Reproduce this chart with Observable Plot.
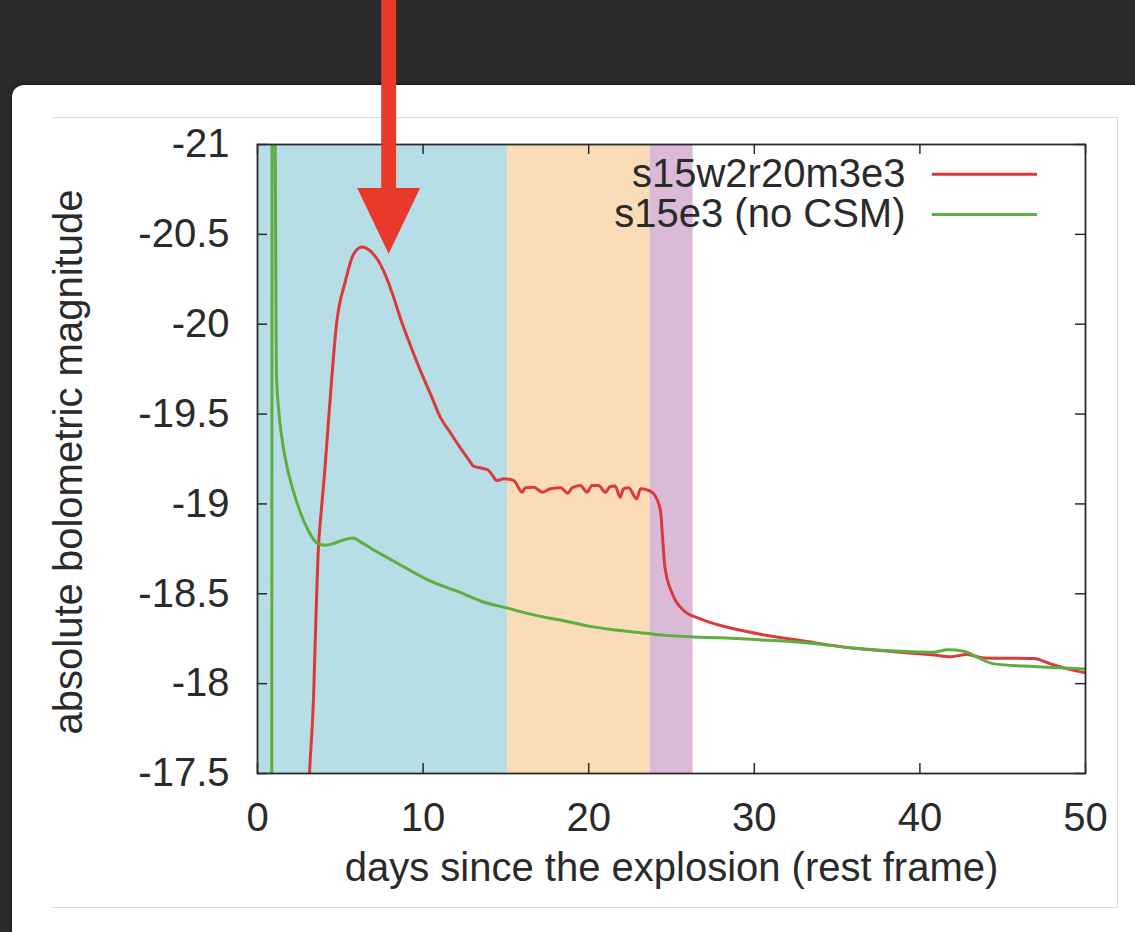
<!DOCTYPE html>
<html>
<head>
<meta charset="utf-8">
<script src="https://cdn.jsdelivr.net/npm/d3@7"></script>
<script src="https://cdn.jsdelivr.net/npm/@observablehq/plot@0.6"></script>
<style>
  html, body { margin: 0; padding: 0; background: #2b2b2b; }
  #stage { position: relative; width: 1135px; height: 932px; overflow: hidden; background: #2b2b2b; }
  #panel { position: absolute; left: 12px; top: 85px; width: 1140px; height: 870px; background: #fff; border-radius: 12px 0 0 0; box-shadow: 0 -2px 4px rgba(0,0,0,0.35); }
  #inner { position: absolute; left: 52px; top: 117px; width: 1065px; height: 789px; border-top: 1.5px solid #dcdcdc; border-right: 1.5px solid #dcdcdc; border-bottom: 1.5px solid #dcdcdc; }
  #chart { position: absolute; left: 0; top: 0; }
</style>
</head>
<body>
<div id="stage">
  <div id="panel"></div>
  <div id="inner"></div>
  <div id="chart"></div>
</div>
<script>
// Light curves: days since explosion (rest frame) vs absolute bolometric magnitude
const seriesNames = ["s15w2r20m3e3", "s15e3 (no CSM)"];

const csmDays = [3.0, 3.14, 3.38, 3.56, 3.66, 3.85, 4.05, 4.35, 4.77, 5.31, 5.8, 6.32, 7.0, 7.6, 8.15, 8.64, 9.24, 9.8,
  10.5, 11.05, 11.55, 12.26, 12.8, 13.04, 13.5, 13.9, 14.1, 14.47, 14.87, 15.48, 15.98, 16.18, 16.69, 17.19, 17.69,
  18.3, 18.74, 19.0, 19.5, 19.9, 20.2, 20.6, 21.0, 21.3, 21.6, 21.9, 22.1, 22.4, 22.9, 23.13, 23.53, 23.93, 24.34,
  24.44, 24.6, 25.05, 25.7, 26.75, 28.76, 30.78, 32.79, 35.81, 38.83, 40.84, 41.85, 42.85, 43.86, 46.88, 47.89, 48.9, 50.0];
const csmMags = [-17.2, -17.5, -17.91, -18.46, -18.72, -18.96, -19.17, -19.54, -20.0, -20.24, -20.39, -20.43, -20.39,
  -20.3, -20.17, -20.03, -19.88, -19.75, -19.6, -19.48, -19.41, -19.31, -19.24, -19.21, -19.2, -19.19, -19.17, -19.13,
  -19.14, -19.13, -19.065, -19.09, -19.093, -19.065, -19.084, -19.09, -19.06, -19.09, -19.103, -19.065, -19.103,
  -19.103, -19.065, -19.097, -19.1, -19.037, -19.084, -19.09, -19.029, -19.084, -19.078, -19.056, -18.96, -18.84,
  -18.65, -18.5, -18.41, -18.36, -18.305, -18.268, -18.24, -18.199, -18.175, -18.16, -18.15, -18.162, -18.143,
  -18.14, -18.11, -18.082, -18.06];

const bareDays = [0.86, 0.88, 1.04, 1.1, 1.14, 1.28, 1.5, 1.8, 2.17, 2.6, 3.08, 3.62, 4.1, 4.6, 5.2, 5.75, 6.2, 7.0,
  8.45, 10.45, 12.44, 13.47, 15.1, 16.8, 18.5, 20.0, 21.5, 23.5, 24.5, 26.3, 28.0, 30.0, 32.79, 35.81, 38.83, 40.84,
  41.65, 42.66, 43.46, 44.47, 46.88, 48.5, 50.0];
const bareMags = [-17.3, -21.4, -21.4, -20.4, -19.73, -19.52, -19.35, -19.2, -19.07, -18.95, -18.85, -18.78, -18.77,
  -18.78, -18.8, -18.81, -18.79, -18.745, -18.67, -18.57, -18.5, -18.46, -18.42, -18.38, -18.35, -18.32, -18.3, -18.28,
  -18.27, -18.26, -18.255, -18.245, -18.23, -18.2, -18.18, -18.175, -18.188, -18.18, -18.147, -18.11, -18.095,
  -18.088, -18.082];

// shaded phases (start/end day)
const phaseStart = [0, 15.1, 23.7];
const phaseEnd = [15.1, 23.7, 26.3];

const xTicks = [0, 10, 20, 30, 40, 50];
const yTicks = [-21, -20.5, -20, -19.5, -19, -18.5, -18, -17.5];

// colours and layout
const phaseFill = ["#b7dde6", "#fbdcb9", "#dbbad8"];
const seriesColor = ["#dc3a3a", "#5dae3e"];
const arrowColor = "#e8392b";
const ink = "#2a2a2a";
const W = 1135, H = 932;
const M = {left: 257, right: 50, top: 144, bottom: 159};
const plotW = W - M.left - M.right, plotH = H - M.top - M.bottom;
const FS = 40;

// down-pointing marker over the peak (day / magnitude units)
const arrowDay = 7.95, arrowShaftHalf = 0.45, arrowHeadHalf = 1.9;
const arrowTop = -21.85, arrowHeadBase = -20.755, arrowTip = -20.39;

// legend placement (day / magnitude units)
const legendTextDay = 39.13, legendLine = [40.75, 47.1], legendRows = [-20.835, -20.61];

const phases = phaseStart.map((s, i) => ({start: s, end: phaseEnd[i], fill: phaseFill[i]}));
const csm = csmDays.map((d, i) => ({day: d, mag: csmMags[i]}));
const bare = bareDays.map((d, i) => ({day: d, mag: bareMags[i]}));
const legend = seriesNames.map((name, i) => ({name, y: legendRows[i], color: seriesColor[i]}));
const head = [
  {x: arrowDay - arrowHeadHalf, y1: arrowHeadBase, y2: arrowHeadBase},
  {x: arrowDay, y1: arrowHeadBase, y2: arrowTip},
  {x: arrowDay + arrowHeadHalf, y1: arrowHeadBase, y2: arrowHeadBase}
];

const fmt = d => String(d);

const chart = Plot.plot({
  width: W,
  height: H,
  marginLeft: M.left,
  marginRight: M.right,
  marginTop: M.top,
  marginBottom: M.bottom,
  style: {background: "transparent", fontFamily: "'Liberation Sans', Arial, Helvetica, sans-serif", fontSize: FS + "px", color: ink},
  x: {domain: [0, 50]},
  y: {domain: [-21, -17.5], reverse: true},
  color: {type: "identity"},
  marks: [
    Plot.rect(phases, {x1: "start", x2: "end", fill: "fill"}),
    Plot.line(csm, {x: "day", y: "mag", stroke: seriesColor[0], strokeWidth: 3, curve: "monotone-x", clip: true}),
    Plot.line(bare, {x: "day", y: "mag", stroke: seriesColor[1], strokeWidth: 3, curve: "monotone-x", clip: true}),
    Plot.frame({stroke: ink, strokeWidth: 1.8}),
    Plot.tickX(xTicks, {x: d => d, insetTop: plotH - 10, stroke: ink, strokeWidth: 1.5}),
    Plot.tickX(xTicks, {x: d => d, insetBottom: plotH - 10, stroke: ink, strokeWidth: 1.5}),
    Plot.tickY(yTicks, {y: d => d, insetRight: plotW - 10, stroke: ink, strokeWidth: 1.5}),
    Plot.tickY(yTicks, {y: d => d, insetLeft: plotW - 10, stroke: ink, strokeWidth: 1.5}),
    Plot.axisX(xTicks, {tickSize: 0, tickPadding: 29, tickFormat: fmt, label: null, fontSize: FS, fill: ink}),
    Plot.axisY(yTicks, {tickSize: 0, tickPadding: 28, tickFormat: fmt, label: null, fontSize: FS, fill: ink}),
    Plot.text(["days since the explosion (rest frame)"], {frameAnchor: "bottom", dy: 107, fontSize: FS, fill: ink}),
    Plot.text(["absolute bolometric magnitude"], {frameAnchor: "left", dx: -188, dy: 3, rotate: -90, textAnchor: "middle", fontSize: FS, fill: ink}),
    Plot.text(legend, {x: () => legendTextDay, y: "y", text: "name", textAnchor: "end", fontSize: FS, fill: ink}),
    Plot.ruleY(legend, {y: "y", x1: () => legendLine[0], x2: () => legendLine[1], stroke: "color", strokeWidth: 3}),
    Plot.rect([0], {x1: () => arrowDay - arrowShaftHalf, x2: () => arrowDay + arrowShaftHalf, y1: () => arrowTop, y2: () => arrowHeadBase + 0.01, fill: arrowColor, clip: false}),
    Plot.areaY(head, {x: "x", y1: "y1", y2: "y2", fill: arrowColor, clip: false})
  ]
});

document.getElementById("chart").appendChild(chart);
</script>
</body>
</html>
